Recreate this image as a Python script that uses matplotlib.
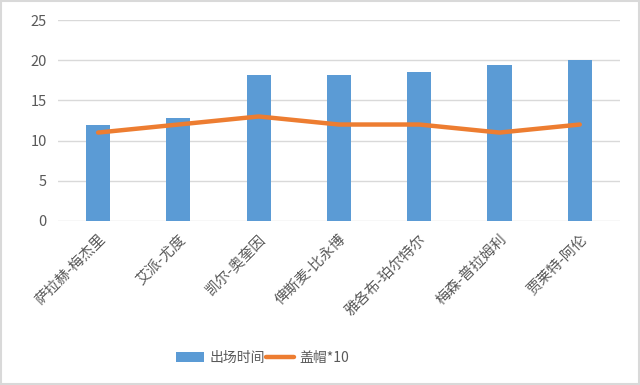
import matplotlib
matplotlib.use("Agg")
import matplotlib.pyplot as plt
from matplotlib.patches import Rectangle

plt.rcParams['font.family'] = ['Noto Sans CJK SC', 'DejaVu Sans']

players = ["萨拉赫-梅杰里", "艾派-尤度", "凯尔-奥奎因", "俾斯麦-比永博",
           "雅各布-珀尔特尔", "梅森-普拉姆利", "贾莱特-阿伦"]
minutes = [12.0, 12.8, 18.1, 18.2, 18.5, 19.4, 20.0]
blocks_x10 = [11, 12, 13, 12, 12, 11, 12]
yticks = [0, 5, 10, 15, 20, 25]

fig = plt.figure(figsize=(6.4, 3.85), dpi=100)
fig.patch.set_facecolor('white')
fig.add_artist(Rectangle((0.002, 0.003), 0.996, 0.994, transform=fig.transFigure,
                         fill=False, edgecolor='#d9d9d9', linewidth=1.5))
ax = fig.add_axes([0.0906, 0.426, 0.878, 0.522])

x = list(range(len(players)))
bars = ax.bar(x, minutes, width=0.3, color='#5B9BD5', zorder=2, label='出场时间')
line, = ax.plot(x, blocks_x10, color='#ED7D31', linewidth=3.2, zorder=3, label='盖帽*10',
                solid_capstyle='round', solid_joinstyle='round')

ax.set_ylim(0, 25)
ax.set_xlim(-0.5, len(players) - 0.5)
ax.set_yticks(yticks)
ax.set_yticklabels([str(v) for v in yticks], color='#595959', fontsize=10.5)
ax.yaxis.grid(True, color='#d9d9d9', linewidth=1, zorder=0)
ax.set_axisbelow(True)
for s in ax.spines.values():
    s.set_visible(False)
ax.tick_params(axis='both', length=0, pad=8)
ax.set_xticks(x)
ax.set_xticklabels(players, rotation=45, ha='right', rotation_mode='anchor',
                   color='#595959', fontsize=10.5)
ax.tick_params(axis='x', pad=8)

fig.legend([bars, line], ['出场时间', '盖帽*10'], loc='center',
           bbox_to_anchor=(0.41, 0.07), ncol=2, frameon=False,
           fontsize=10, handlelength=2.0, handletextpad=0.4, columnspacing=0.1,
           labelcolor='#595959')

fig.savefig('out.png', dpi=100)
